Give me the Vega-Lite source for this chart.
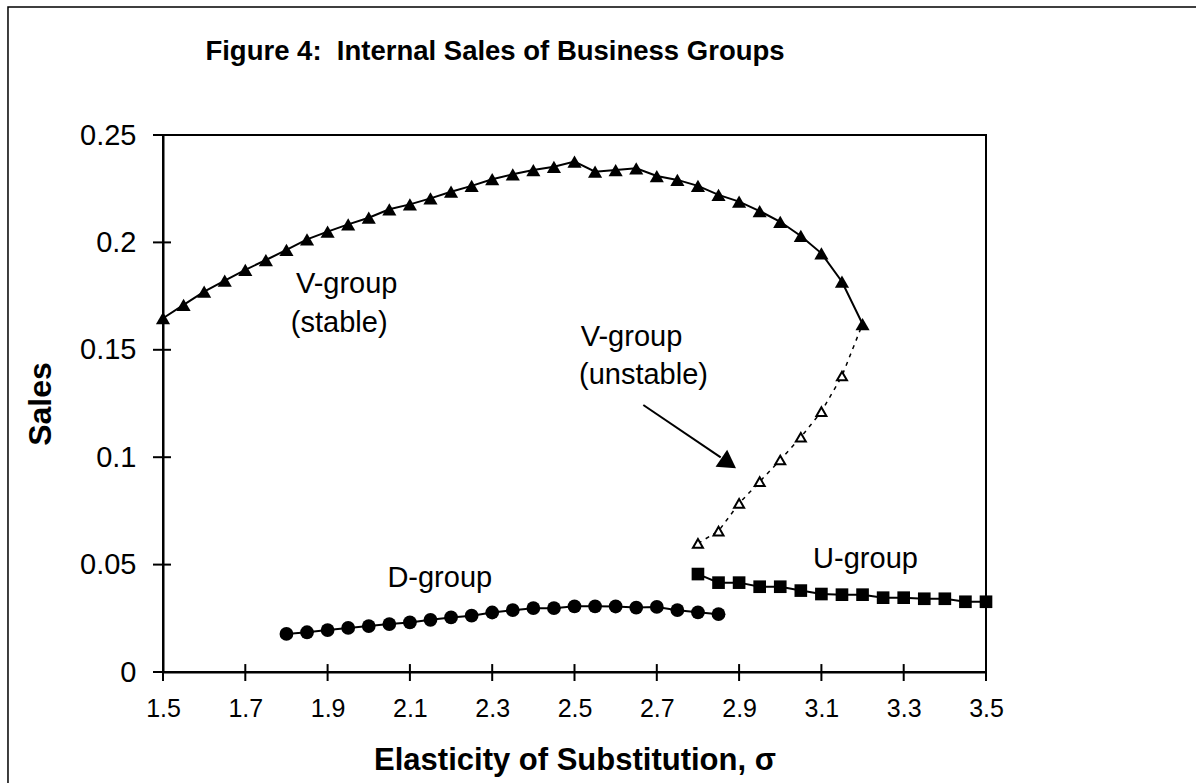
{
  "$schema": "https://vega.github.io/schema/vega-lite/v6.json",
  "width": 823,
  "height": 537,
  "autosize": {"type": "none"},
  "padding": {"left": 163, "top": 135, "right": 210, "bottom": 111},
  "background": "white",
  "config": {
    "font": "Liberation Sans",
    "view": {"stroke": "black", "strokeWidth": 2},
    "axis": {"domainColor": "black", "domainWidth": 2, "ticks": false, "grid": false, "labelColor": "black", "titleColor": "black", "labelFont": "Liberation Sans", "titleFont": "Liberation Sans", "labelOverlap": false}
  },
  "datasets": {
    "vstable": [
      {"sigma": 1.5, "sales": 0.1647}, {"sigma": 1.55, "sales": 0.1709}, {"sigma": 1.6, "sales": 0.1771}, {"sigma": 1.65, "sales": 0.1822},
      {"sigma": 1.7, "sales": 0.1872}, {"sigma": 1.75, "sales": 0.1918}, {"sigma": 1.8, "sales": 0.1965}, {"sigma": 1.85, "sales": 0.2014},
      {"sigma": 1.9, "sales": 0.205}, {"sigma": 1.95, "sales": 0.2084}, {"sigma": 2.0, "sales": 0.2115}, {"sigma": 2.05, "sales": 0.2154},
      {"sigma": 2.1, "sales": 0.2177}, {"sigma": 2.15, "sales": 0.2205}, {"sigma": 2.2, "sales": 0.2236}, {"sigma": 2.25, "sales": 0.2263},
      {"sigma": 2.3, "sales": 0.2294}, {"sigma": 2.35, "sales": 0.2317}, {"sigma": 2.4, "sales": 0.2337}, {"sigma": 2.45, "sales": 0.2352},
      {"sigma": 2.5, "sales": 0.2376}, {"sigma": 2.55, "sales": 0.2329}, {"sigma": 2.6, "sales": 0.2337}, {"sigma": 2.65, "sales": 0.2345},
      {"sigma": 2.7, "sales": 0.2309}, {"sigma": 2.75, "sales": 0.2291}, {"sigma": 2.8, "sales": 0.2263}, {"sigma": 2.85, "sales": 0.2221},
      {"sigma": 2.9, "sales": 0.219}, {"sigma": 2.95, "sales": 0.2146}, {"sigma": 3.0, "sales": 0.2096}, {"sigma": 3.05, "sales": 0.203},
      {"sigma": 3.1, "sales": 0.1949}, {"sigma": 3.15, "sales": 0.1817}, {"sigma": 3.2, "sales": 0.162}
    ],
    "vunstable": [
      {"sigma": 2.8, "sales": 0.0599}, {"sigma": 2.85, "sales": 0.0656}, {"sigma": 2.9, "sales": 0.0785}, {"sigma": 2.95, "sales": 0.0886},
      {"sigma": 3.0, "sales": 0.0987}, {"sigma": 3.05, "sales": 0.1093}, {"sigma": 3.1, "sales": 0.1212}, {"sigma": 3.15, "sales": 0.1378},
      {"sigma": 3.2, "sales": 0.162}
    ],
    "dgroup": [
      {"sigma": 1.8, "sales": 0.0177}, {"sigma": 1.85, "sales": 0.0185}, {"sigma": 1.9, "sales": 0.0195}, {"sigma": 1.95, "sales": 0.0205},
      {"sigma": 2.0, "sales": 0.0214}, {"sigma": 2.05, "sales": 0.0223}, {"sigma": 2.1, "sales": 0.0231}, {"sigma": 2.15, "sales": 0.0243},
      {"sigma": 2.2, "sales": 0.0254}, {"sigma": 2.25, "sales": 0.0262}, {"sigma": 2.3, "sales": 0.0277}, {"sigma": 2.35, "sales": 0.0288},
      {"sigma": 2.4, "sales": 0.0297}, {"sigma": 2.45, "sales": 0.0297}, {"sigma": 2.5, "sales": 0.0306}, {"sigma": 2.55, "sales": 0.0306},
      {"sigma": 2.6, "sales": 0.0305}, {"sigma": 2.65, "sales": 0.03}, {"sigma": 2.7, "sales": 0.0303}, {"sigma": 2.75, "sales": 0.0288},
      {"sigma": 2.8, "sales": 0.0278}, {"sigma": 2.85, "sales": 0.0269}
    ],
    "ugroup": [
      {"sigma": 2.8, "sales": 0.0456}, {"sigma": 2.85, "sales": 0.0416}, {"sigma": 2.9, "sales": 0.0416}, {"sigma": 2.95, "sales": 0.0397},
      {"sigma": 3.0, "sales": 0.0397}, {"sigma": 3.05, "sales": 0.0379}, {"sigma": 3.1, "sales": 0.0363}, {"sigma": 3.15, "sales": 0.036},
      {"sigma": 3.2, "sales": 0.036}, {"sigma": 3.25, "sales": 0.0346}, {"sigma": 3.3, "sales": 0.0346}, {"sigma": 3.35, "sales": 0.0341},
      {"sigma": 3.4, "sales": 0.0341}, {"sigma": 3.45, "sales": 0.0327}, {"sigma": 3.5, "sales": 0.0327}
    ],
    "xticks": [
      {"sigma": 1.5}, {"sigma": 1.7}, {"sigma": 1.9}, {"sigma": 2.1}, {"sigma": 2.3}, {"sigma": 2.5},
      {"sigma": 2.7}, {"sigma": 2.9}, {"sigma": 3.1}, {"sigma": 3.3}, {"sigma": 3.5}
    ],
    "yticks": [
      {"sales": 0}, {"sales": 0.05}, {"sales": 0.1}, {"sales": 0.15}, {"sales": 0.2}, {"sales": 0.25}
    ],
    "labels": [
      {"sigma": 1.9464, "sales": 0.1764, "label": "V-group"},
      {"sigma": 1.9282, "sales": 0.1584, "label": "(stable)"},
      {"sigma": 2.6385, "sales": 0.152, "label": "V-group"},
      {"sigma": 2.6677, "sales": 0.134, "label": "(unstable)"},
      {"sigma": 2.1726, "sales": 0.0395, "label": "D-group"},
      {"sigma": 3.2072, "sales": 0.0483, "label": "U-group"}
    ],
    "titles": [
      {"sigma": 2.3068, "sales": 0.2849, "label": "Figure 4:\u00a0 Internal Sales of Business Groups"}
    ],
    "arrow": [
      {"sigma": 2.6672, "sales": 0.1243, "sigma2": 2.8553, "sales2": 0.0999}
    ],
    "arrowhead": [
      {"sigma": 2.8747, "sales": 0.0972}
    ],
    "frame": [
      {"sigma": 1.1233, "sales": 0.3096, "sigma2": 5.0, "sales2": -0.5}
    ]
  },
  "layer": [
    {
      "encoding": {
        "x": {"field": "sigma", "type": "quantitative", "scale": {"domain": [1.5, 3.5], "nice": false, "zero": false},
          "axis": {"values": [1.5, 1.7, 1.9, 2.1, 2.3, 2.5, 2.7, 2.9, 3.1, 3.3, 3.5], "format": ".1f", "labelFontSize": 25, "labelPadding": 24, "labelFlush": false,
            "title": "Elasticity of Substitution, σ", "titleFontSize": 31, "titleFontWeight": "bold", "titlePadding": 24}},
        "y": {"field": "sales", "type": "quantitative", "scale": {"domain": [0, 0.25], "nice": false, "zero": false},
          "axis": {"values": [0, 0.05, 0.1, 0.15, 0.2, 0.25], "format": "~g", "labelFontSize": 29, "labelPadding": 27,
            "title": "Sales", "titleFontSize": 32, "titleFontWeight": "bold", "titlePadding": 22}}
      },
      "layer": [
        {
          "data": {"name": "vunstable"},
          "mark": {"type": "line", "color": "black", "strokeWidth": 1.5, "strokeDash": [4, 5]}
        },
        {
          "data": {"name": "vunstable"},
          "transform": [{"filter": "datum.sigma < 3.19"}],
          "mark": {"type": "point", "shape": "triangle-up", "filled": true, "fill": "white", "stroke": "black", "strokeWidth": 2, "size": 100, "opacity": 1}
        },
        {
          "data": {"name": "vstable"},
          "mark": {"type": "line", "color": "black", "strokeWidth": 2, "point": {"shape": "triangle-up", "filled": true, "color": "black", "size": 200, "opacity": 1}}
        },
        {
          "data": {"name": "dgroup"},
          "mark": {"type": "line", "color": "black", "strokeWidth": 2, "point": {"shape": "circle", "filled": true, "color": "black", "size": 190, "opacity": 1}}
        },
        {
          "data": {"name": "ugroup"},
          "mark": {"type": "line", "color": "black", "strokeWidth": 2, "point": {"shape": "square", "filled": true, "color": "black", "size": 160, "opacity": 1}}
        },
        {
          "data": {"name": "labels"},
          "mark": {"type": "text", "font": "Liberation Sans", "fontSize": 29, "color": "black", "align": "center", "baseline": "alphabetic"},
          "encoding": {"text": {"field": "label"}}
        },
        {
          "data": {"name": "titles"},
          "mark": {"type": "text", "font": "Liberation Sans", "fontSize": 27.5, "fontWeight": "bold", "color": "black", "align": "center", "baseline": "alphabetic"},
          "encoding": {"text": {"field": "label"}}
        },
        {
          "data": {"name": "arrow"},
          "mark": {"type": "rule", "color": "black", "strokeWidth": 2},
          "encoding": {"x2": {"field": "sigma2"}, "y2": {"field": "sales2"}}
        },
        {
          "data": {"name": "arrowhead"},
          "mark": {"type": "point", "shape": "triangle-up", "filled": true, "color": "black", "size": 420, "angle": 124.5, "opacity": 1}
        },
        {
          "data": {"name": "frame"},
          "mark": {"type": "rect", "filled": false, "stroke": "black", "strokeWidth": 1.5},
          "encoding": {"x2": {"field": "sigma2"}, "y2": {"field": "sales2"}}
        }
      ]
    },
    {
      "data": {"name": "xticks"},
      "mark": {"type": "rule", "color": "black", "strokeWidth": 2},
      "encoding": {
        "x": {"field": "sigma", "type": "quantitative"},
        "y": {"datum": -0.0042, "type": "quantitative"},
        "y2": {"datum": 0.0037}
      }
    },
    {
      "data": {"name": "yticks"},
      "mark": {"type": "rule", "color": "black", "strokeWidth": 2},
      "encoding": {
        "y": {"field": "sales", "type": "quantitative"},
        "x": {"datum": 1.4757, "type": "quantitative"},
        "x2": {"datum": 1.5194}
      }
    }
  ]
}
